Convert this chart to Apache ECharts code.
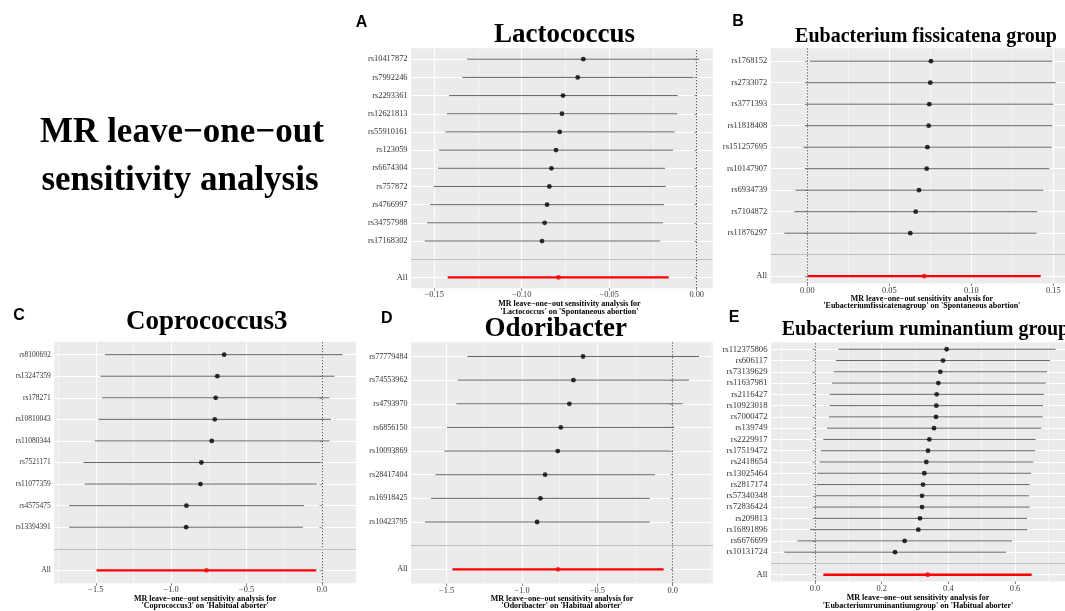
<!DOCTYPE html>
<html><head><meta charset="utf-8">
<script src="https://cdn.jsdelivr.net/npm/echarts@6/dist/echarts.min.js"></script>
<style>html,body{margin:0;padding:0;background:#fff}#c{width:1065px;height:611px}</style>
</head><body><div id="c"></div>
<script>
// ---------- DATA ----------
// Panel A: Lactococcus -> Spontaneous abortion
const snpsA = ['rs10417872','rs7992246','rs2293361','rs12621813','rs55910161','rs123059','rs6674304','rs757872','rs4766997','rs34757988','rs17168302'];
const bA  = [-0.0648,-0.0680,-0.0764,-0.0770,-0.0783,-0.0804,-0.0830,-0.0842,-0.0855,-0.0869,-0.0884];
const loA = [-0.1312,-0.1339,-0.1415,-0.1427,-0.1436,-0.1472,-0.1478,-0.1503,-0.1524,-0.1541,-0.1554];
const upA = [0.0015,-0.0019,-0.0109,-0.0112,-0.0126,-0.0135,-0.0181,-0.0177,-0.0187,-0.0194,-0.0210];
const allA = [-0.0790,-0.1423,-0.0160]; // estimate, lower, upper
const ticksA = [-0.15,-0.10,-0.05,0.00];
const minorA = [-0.125,-0.075,-0.025];

// Panel B: Eubacterium fissicatena group -> Spontaneous abortion
const snpsB = ['rs1768152','rs2733072','rs3771393','rs11818408','rs151257695','rs10147907','rs6934739','rs7104872','rs11876297'];
const bB  = [0.0754,0.0750,0.0744,0.0740,0.0732,0.0728,0.0681,0.0661,0.0628];
const loB = [0.0016,-0.0006,-0.0008,-0.0012,-0.0024,-0.0012,-0.0073,-0.0079,-0.0140];
const upB = [0.1494,0.1514,0.1500,0.1494,0.1490,0.1476,0.1439,0.1402,0.1398];
const allB = [0.0713,0.0002,0.1423];
const ticksB = [0.00,0.05,0.10,0.15];
const minorB = [0.025,0.075,0.125];

// Panel C: Coprococcus3 -> Habitual aborter
const snpsC = ['rs8100692','rs13247359','rs178271','rs10810043','rs11080344','rs7521171','rs11077359','rs4575475','rs13394391'];
const bC  = [-0.649,-0.694,-0.705,-0.711,-0.731,-0.800,-0.806,-0.899,-0.901];
const loC = [-1.440,-1.469,-1.458,-1.482,-1.507,-1.582,-1.573,-1.677,-1.677];
const upC = [0.137,0.084,0.049,0.060,0.049,-0.013,-0.035,-0.119,-0.126];
const allC = [-0.767,-1.495,-0.038];
const ticksC = [-1.5,-1.0,-0.5,0.0];
const minorC = [-1.75,-1.25,-0.75,-0.25];

// Panel D: Odoribacter -> Habitual aborter
const snpsD = ['rs77779484','rs74553962','rs4793970','rs6856150','rs10093869','rs28417404','rs16918425','rs10423795'];
const bD  = [-0.595,-0.659,-0.686,-0.743,-0.763,-0.847,-0.878,-0.900];
const loD = [-1.363,-1.427,-1.436,-1.498,-1.515,-1.575,-1.604,-1.644];
const upD = [0.175,0.108,0.066,0.011,-0.013,-0.117,-0.153,-0.153];
const allD = [-0.761,-1.462,-0.060];
const ticksD = [-1.5,-1.0,-0.5,0.0];
const minorD = [-1.25,-0.75,-0.25,0.25];

// Panel E: Eubacterium ruminantium group -> Habitual aborter
const snpsE = ['rs112375806','rs606117','rs73139629','rs11637981','rs2116427','rs10923018','rs7000472','rs139749','rs2229917','rs17519472','rs2418654','rs13025464','rs2817174','rs57340348','rs72836424','rs209813','rs16891896','rs6676699','rs10131724'];
const bE  = [0.395,0.384,0.376,0.370,0.365,0.364,0.363,0.357,0.343,0.339,0.334,0.328,0.324,0.321,0.321,0.315,0.310,0.269,0.240];
const loE = [0.070,0.063,0.057,0.051,0.044,0.044,0.042,0.036,0.025,0.018,0.014,0.007,0.005,0.001,-0.002,-0.002,-0.015,-0.053,-0.092];
const upE = [0.722,0.705,0.696,0.692,0.687,0.684,0.683,0.679,0.662,0.660,0.655,0.648,0.644,0.642,0.644,0.636,0.637,0.591,0.573];
const allE = [0.338,0.025,0.650];
const ticksE = [0.0,0.2,0.4,0.6];
const minorE = [-0.1,0.1,0.3,0.5,0.7];

const mainTitle = ['MR leave\u2212one\u2212out', 'sensitivity analysis'];
const panelTitles = ['Lactococcus','Eubacterium fissicatena group','Coprococcus3','Odoribacter','Eubacterium ruminantium group'];
const panelLetters = ['A','B','C','D','E'];
const xTitles = [
  "MR leave\u2212one\u2212out sensitivity analysis for\n'Lactococcus' on 'Spontaneous abortion'",
  "MR leave\u2212one\u2212out sensitivity analysis for\n'Eubacteriumfissicatenagroup' on 'Spontaneous abortion'",
  "MR leave\u2212one\u2212out sensitivity analysis for\n'Coprococcus3' on 'Habitual aborter'",
  "MR leave\u2212one\u2212out sensitivity analysis for\n'Odoribacter' on 'Habitual aborter'",
  "MR leave\u2212one\u2212out sensitivity analysis for\n'Eubacteriumruminantiumgroup' on 'Habitual aborter'"
];

// ---------- LAYOUT ----------
const serif = "'Liberation Serif','Times New Roman',serif";
const sans = "'Liberation Sans',Arial,sans-serif";
const panels = [
  {snps:snpsA,b:bA,lo:loA,up:upA,all:allA,ticks:ticksA,minor:minorA,dec:2,
   box:{left:411,top:48.3,width:301.7,height:240},x:[-0.16326,0.00914],ymin:0.4,yFont:8.4,gap:11.5,lh:7.3,shift:7.6,
   title:{x:564.5,y:35,size:27,align:'center'},letter:{x:361.5,y:22.5}},
  {snps:snpsB,b:bB,lo:loB,up:upB,all:allB,ticks:ticksB,minor:minorB,dec:2,
   box:{left:770.7,top:48.3,width:294.3,height:235.2},x:[-0.02232,0.15713],ymin:0.66,yFont:8.5,gap:7.5,lh:6.6,shift:4,
   title:{x:926,y:36.7,size:20,align:'center'},letter:{x:738,y:21.5}},
  {snps:snpsC,b:bC,lo:loC,up:upC,all:allC,ticks:ticksC,minor:minorC,dec:1,
   box:{left:54.3,top:341.7,width:301.7,height:241.9},x:[-1.7752,0.2255],ymin:0.4,yFont:7.5,gap:8,lh:6.8,shift:0,
   title:{x:206.7,y:322.3,size:27,align:'center'},letter:{x:19,y:316}},
  {snps:snpsD,b:bD,lo:loD,up:upD,all:allD,ticks:ticksD,minor:minorD,dec:1,
   box:{left:411,top:342.3,width:302,height:241.2},x:[-1.737,0.2675],ymin:0.4,yFont:8.1,gap:12,lh:6.2,shift:0,
   title:{x:555.7,y:329,size:27,align:'center'},letter:{x:386.7,y:319}},
  {snps:snpsE,b:bE,lo:loE,up:upE,all:allE,ticks:ticksE,minor:minorE,dec:1,
   box:{left:771,top:342.5,width:294,height:241},x:[-0.132,0.75],ymin:0.4,yFont:8.7,gap:10.5,lh:8.3,shift:0,
   title:{x:781.7,y:330,size:20,align:'left'},letter:{x:734,y:317.5}}
];

function fmt(dec){
  return function(v){ const s = Math.abs(v).toFixed(dec); return (v < -1e-9 ? '\u2212' : '') + s; };
}
function segRender(color, width){
  return function(params, api){
    const p1 = api.coord([api.value(0), api.value(2)]);
    const p2 = api.coord([api.value(1), api.value(2)]);
    return {type:'line', shape:{x1:p1[0],y1:p1[1],x2:p2[0],y2:p2[1]}, style:{stroke:color, lineWidth:width}};
  };
}

const grids=[], xAxes=[], yAxes=[], series=[], graphics=[];
panels.forEach(function(p, k){
  const n = p.snps.length, N = n + 2;
  const labelMap = {1:'All', 2:''};
  p.snps.forEach(function(s,i){ labelMap[N - i] = s; });
  const tickVals = []; for (let v=1; v<=N; v++) tickVals.push(v);
  const labVals = tickVals.filter(function(v){ return v !== 2; });

  grids.push(Object.assign({show:true, backgroundColor:'#EBEBEB', borderWidth:0, containLabel:false}, p.box));

  xAxes.push({type:'value', gridIndex:k, min:p.x[0], max:p.x[1], position:'bottom',
    axisLine:{show:false},
    axisTick:{show:true, customValues:p.ticks, length:2.5, lineStyle:{color:'#333', width:0.6}},
    axisLabel:{customValues:p.ticks, formatter:fmt(p.dec), fontFamily:serif, fontSize:8.4, color:'#3A3A3A', margin:3},
    splitLine:{show:true, lineStyle:{color:'#FFFFFF', width:1.1}},
    name:xTitles[k], nameLocation:'middle', nameGap:p.gap,
    nameTextStyle:{fontFamily:serif, fontWeight:'bold', fontSize:8, color:'#000', lineHeight:p.lh, padding:[0,0,0,2*p.shift]}
  });
  xAxes.push({type:'value', gridIndex:k, min:p.x[0], max:p.x[1], position:'top',
    axisLine:{show:false}, axisTick:{show:false, customValues:p.minor}, axisLabel:{show:false, customValues:p.minor},
    splitLine:{show:true, lineStyle:{color:'#FFFFFF', width:0.5}}
  });
  yAxes.push({type:'value', gridIndex:k, min:p.ymin, max:N + 0.6,
    axisLine:{show:false},
    axisTick:{show:true, customValues:tickVals, length:2.5, lineStyle:{color:'#333', width:0.5}},
    axisLabel:{customValues:labVals, formatter:function(v){ return labelMap[Math.round(v)] || ''; },
      fontFamily:serif, fontSize:p.yFont, color:'#333333', margin:3.5},
    splitLine:{show:true, lineStyle:{color:'#FFFFFF', width:1}}
  });

  const xi = 2*k;
  series.push({type:'custom', xAxisIndex:xi, yAxisIndex:k, renderItem:segRender('#666666', 1),
    data:p.snps.map(function(s,i){ return [p.lo[i], p.up[i], N - i]; }), silent:true, animation:false, z:2});
  series.push({type:'scatter', xAxisIndex:xi, yAxisIndex:k, symbolSize:4.8, itemStyle:{color:'#000'},
    data:p.snps.map(function(s,i){ return [p.b[i], N - i]; }), silent:true, animation:false, z:3,
    markLine:{silent:true, symbol:['none','none'], label:{show:false}, animation:false, z:1,
      data:[
        {xAxis:0, lineStyle:{color:'#333', type:[1.2,1.8], width:0.9}},
        {yAxis:2, lineStyle:{color:'#BEBEBE', type:'solid', width:1.2}}
      ]}
  });
  series.push({type:'custom', xAxisIndex:xi, yAxisIndex:k, renderItem:segRender('#FF0000', 2.3),
    data:[[p.all[1], p.all[2], 1]], silent:true, animation:false, z:2});
  series.push({type:'scatter', xAxisIndex:xi, yAxisIndex:k, symbolSize:4.8, itemStyle:{color:'#FF0000'},
    data:[[p.all[0], 1]], silent:true, animation:false, z:3});

  const t = p.title;
  graphics.push({type:'text', x:t.x, y:t.y, silent:true, style:{text:panelTitles[k], font:'bold '+t.size+'px '+serif, fill:'#000',
    align:t.align, textAlign:t.align, verticalAlign:'middle', textVerticalAlign:'middle'}});
  graphics.push({type:'text', x:p.letter.x, y:p.letter.y, silent:true, style:{text:panelLetters[k], font:'bold 16px '+sans, fill:'#000',
    align:'center', textAlign:'center', verticalAlign:'middle', textVerticalAlign:'middle'}});
});
graphics.push({type:'text', x:182, y:133, silent:true, style:{text:mainTitle[0], font:'bold 35px '+serif, fill:'#000', align:'center', textAlign:'center', verticalAlign:'middle', textVerticalAlign:'middle'}});
graphics.push({type:'text', x:180, y:180.5, silent:true, style:{text:mainTitle[1], font:'bold 35px '+serif, fill:'#000', align:'center', textAlign:'center', verticalAlign:'middle', textVerticalAlign:'middle'}});

const chart = echarts.init(document.getElementById('c'), null, {renderer:'canvas'});
chart.setOption({animation:false, backgroundColor:'#FFFFFF', grid:grids, xAxis:xAxes, yAxis:yAxes, series:series, graphic:graphics});
</script>
</body></html>
